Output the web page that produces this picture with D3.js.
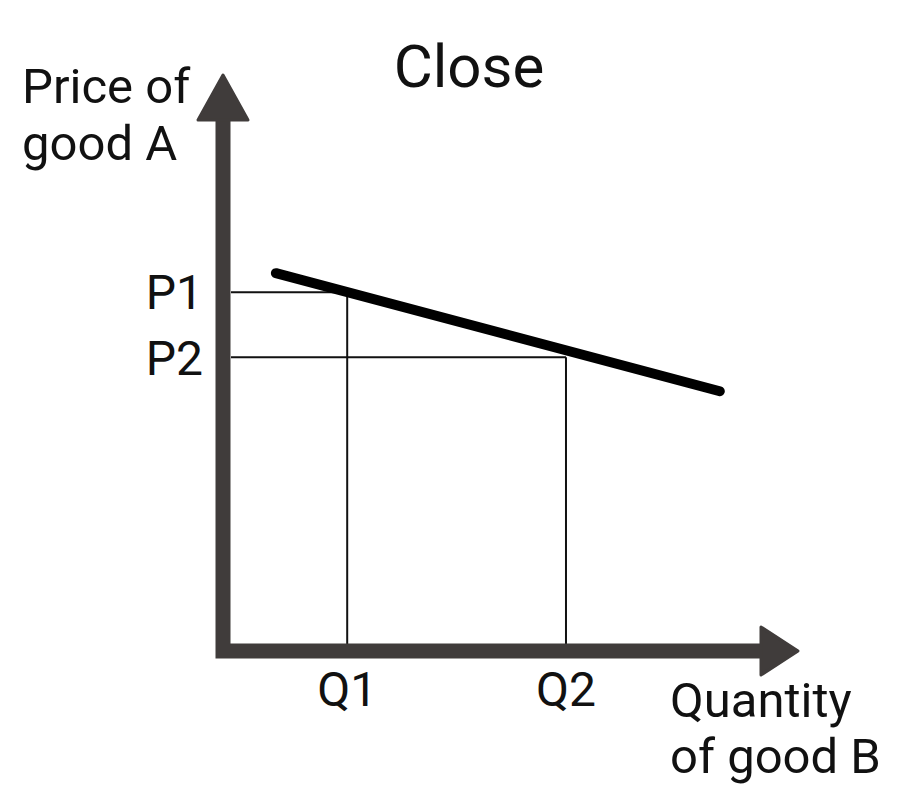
<!DOCTYPE html>
<html>
<head>
<meta charset="utf-8">
<script src="https://cdn.jsdelivr.net/npm/d3@7"></script>
<style>
  body { margin: 0; background: #fff; }
  text { font-family: Roboto, "Noto Sans", sans-serif; fill: #111; }
</style>
</head>
<body>
<script>
// Data (arbitrary units, 0-100 on both axes)
var demand = [{q: 9.2, p: 65.6}, {q: 86.4, p: 45.1}];
var quantities = [21.6, 59.65];
var prices = [62.3, 51.0];
var qLabels = ['Q1', 'Q2'];
var pLabels = ['P1', 'P2'];
var title = 'Close';
var yTitle = ['Price of', 'good A'];
var xTitle = ['Quantity', 'of good B'];

var width = 922, height = 806;
var axisColor = '#403c3b';

var svg = d3.select('body')
	.append('svg')
	.attr('width', width)
	.attr('height', height);

var xScale = d3.scaleLinear()
	.domain([0, 100])
	.range([223, 798]);
var yScale = d3.scaleLinear()
	.domain([0, 100])
	.range([651, 75]);

var x0 = xScale(0), y0 = yScale(0);

// guide lines
svg.selectAll('.hguide')
	.data(prices)
	.enter().append('line')
	.attr('class', 'hguide')
	.attr('x1', x0 + 8)
	.attr('x2', function(d, i){ return xScale(quantities[i]); })
	.attr('y1', function(d){ return yScale(d); })
	.attr('y2', function(d){ return yScale(d); })
	.style('stroke', '#111')
	.style('stroke-width', 2);
svg.selectAll('.vguide')
	.data(quantities)
	.enter().append('line')
	.attr('class', 'vguide')
	.attr('x1', function(d){ return xScale(d); })
	.attr('x2', function(d){ return xScale(d); })
	.attr('y1', function(d, i){ return yScale(prices[i]); })
	.attr('y2', y0)
	.style('stroke', '#111')
	.style('stroke-width', 2);

// demand line
var line = d3.line()
	.x(function(d){ return xScale(d.q); })
	.y(function(d){ return yScale(d.p); });
svg.append('path')
	.datum(demand)
	.attr('d', line)
	.style('fill', 'none')
	.style('stroke', '#000')
	.style('stroke-width', 10)
	.style('stroke-linecap', 'round');

// axes
var xEnd = xScale.range()[1], yEnd = yScale.range()[1];
svg.append('path')
	.attr('d', 'M' + x0 + ',' + (yEnd + 40) + 'V' + y0 + 'H' + (xEnd - 35))
	.style('fill', 'none')
	.style('stroke', axisColor)
	.style('stroke-width', 15)
	.style('stroke-linecap', 'square');
svg.append('path')
	.attr('d', 'M' + x0 + ',' + yEnd + 'L' + (x0 + 25) + ',' + (yEnd + 45) + 'L' + (x0 - 25) + ',' + (yEnd + 45) + 'Z')
	.style('fill', axisColor)
	.style('stroke', axisColor)
	.style('stroke-width', 3)
	.style('stroke-linejoin', 'round');
svg.append('path')
	.attr('d', 'M' + xEnd + ',' + y0 + 'L' + (xEnd - 37) + ',' + (y0 - 24) + 'L' + (xEnd - 37) + ',' + (y0 + 24) + 'Z')
	.style('fill', axisColor)
	.style('stroke', axisColor)
	.style('stroke-width', 3)
	.style('stroke-linejoin', 'round');

// tick labels
svg.selectAll('.plabel')
	.data(prices)
	.enter().append('text')
	.attr('class', 'plabel')
	.attr('x', 203)
	.attr('y', function(d){ return yScale(d); })
	.attr('dy', '0.36em')
	.attr('text-anchor', 'end')
	.style('font-size', '48px')
	.text(function(d, i){ return pLabels[i]; });
svg.selectAll('.qlabel')
	.data(quantities)
	.enter().append('text')
	.attr('class', 'qlabel')
	.attr('x', function(d){ return xScale(d); })
	.attr('y', 706)
	.attr('text-anchor', 'middle')
	.style('font-size', '48px')
	.text(function(d, i){ return qLabels[i]; });

// titles
svg.append('text')
	.attr('x', 469)
	.attr('y', 87)
	.attr('text-anchor', 'middle')
	.style('font-size', '60px')
	.text(title);
svg.selectAll('.ytitle')
	.data(yTitle)
	.enter().append('text')
	.attr('class', 'ytitle')
	.attr('x', 22)
	.attr('y', function(d, i){ return 103 + i * 57; })
	.style('font-size', '49px')
	.text(function(d){ return d; });
svg.selectAll('.xtitle')
	.data(xTitle)
	.enter().append('text')
	.attr('class', 'xtitle')
	.attr('x', 670)
	.attr('y', function(d, i){ return 717 + i * 56; })
	.style('font-size', '49px')
	.text(function(d){ return d; });
</script>
</body>
</html>
